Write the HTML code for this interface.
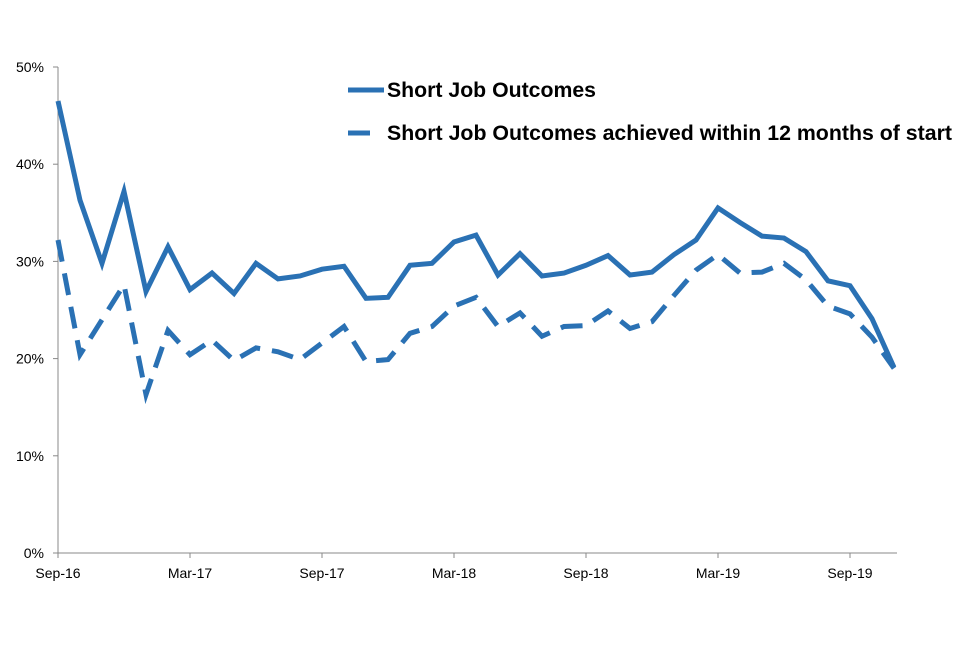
<!DOCTYPE html>
<html><head><meta charset="utf-8"><style>
body{margin:0;background:#fff;font-family:"Liberation Sans",sans-serif}
</style></head><body>
<svg id="chart" width="960" height="640" xmlns="http://www.w3.org/2000/svg" font-family="Liberation Sans, sans-serif">
<g id="axes"></g>
<g id="series"></g>
<g>
<line x1="348" y1="90" x2="384" y2="90" stroke="#2a71b4" stroke-width="5"/>
<text x="387" y="97" font-size="21" font-weight="bold" fill="#000" textLength="209" lengthAdjust="spacingAndGlyphs">Short Job Outcomes</text>
<line x1="348" y1="133" x2="370" y2="133" stroke="#2a71b4" stroke-width="5"/>
<text x="387" y="140" font-size="21" font-weight="bold" fill="#000" textLength="565" lengthAdjust="spacingAndGlyphs">Short Job Outcomes achieved within 12 months of start</text>
</g>
</svg>
<script>
const solidValues=[46.5,36.3,29.8,37.2,26.9,31.5,27.1,28.8,26.7,29.8,28.2,28.5,29.2,29.5,26.2,26.3,29.6,29.8,32.0,32.7,28.6,30.8,28.5,28.8,29.6,30.6,28.6,28.9,30.7,32.2,35.5,34.0,32.6,32.4,31.0,28.0,27.5,24.1,19.1];
const dashedValues=[32.2,20.4,24.0,27.6,16.3,22.9,20.4,21.9,19.8,21.1,20.7,19.9,21.6,23.3,19.7,19.9,22.6,23.3,25.4,26.3,23.3,24.7,22.3,23.3,23.4,24.9,23.1,23.8,26.5,29.1,30.7,28.8,28.9,29.8,28.1,25.4,24.6,22.2,19.0];
const xTickLabels=["Sep-16","Mar-17","Sep-17","Mar-18","Sep-18","Mar-19","Sep-19"];
const yTickValues=[0,10,20,30,40,50];
const NS="http://www.w3.org/2000/svg";
const x0=58,dx=22,yZero=553,pxPer=9.72;
const xScale=i=>x0+i*dx;
const yScale=v=>yZero-v*pxPer;
function mk(tag,attrs,parent){const e=document.createElementNS(NS,tag);for(const k in attrs)e.setAttribute(k,attrs[k]);parent.appendChild(e);return e;}
const axes=document.getElementById('axes');
const n=solidValues.length;
let l=mk('line',{x1:x0,y1:yScale(50),x2:x0,y2:yZero,stroke:'#888','stroke-width':1},axes);


l=mk('line',{x1:x0,y1:yZero,x2:xScale(n-1)+3,y2:yZero,stroke:'#888','stroke-width':1},axes);


yTickValues.forEach(v=>{
 const t=mk('line',{x1:x0-5,x2:x0,y1:yScale(v),y2:yScale(v),stroke:'#888'},axes);
 
 
 const tx=mk('text',{x:x0-14,y:yScale(v)+5,'text-anchor':'end','font-size':14,fill:'#000'},axes);
 tx.textContent=v+'%';
 
 
});
xTickLabels.forEach((s,k)=>{
 const x=xScale(k*6);
 const t=mk('line',{x1:x,x2:x,y1:yZero,y2:yZero+5,stroke:'#888'},axes);
 
 
 const tx=mk('text',{x:x,y:yZero+25,'text-anchor':'middle','font-size':14,fill:'#000'},axes);
 tx.textContent=s;
 
 
});
const ser=document.getElementById('series');
function path(vals){return vals.map((v,i)=>(i?'L':'M')+xScale(i)+' '+yScale(v)).join(' ');}
const p1=mk('path',{d:path(solidValues),fill:'none',stroke:'#2a71b4','stroke-width':5,'stroke-linejoin':'miter'},ser);


const p2=mk('path',{d:path(dashedValues),fill:'none',stroke:'#2a71b4','stroke-width':5,'stroke-dasharray':'22 12'},ser);


</script>
</body></html>
